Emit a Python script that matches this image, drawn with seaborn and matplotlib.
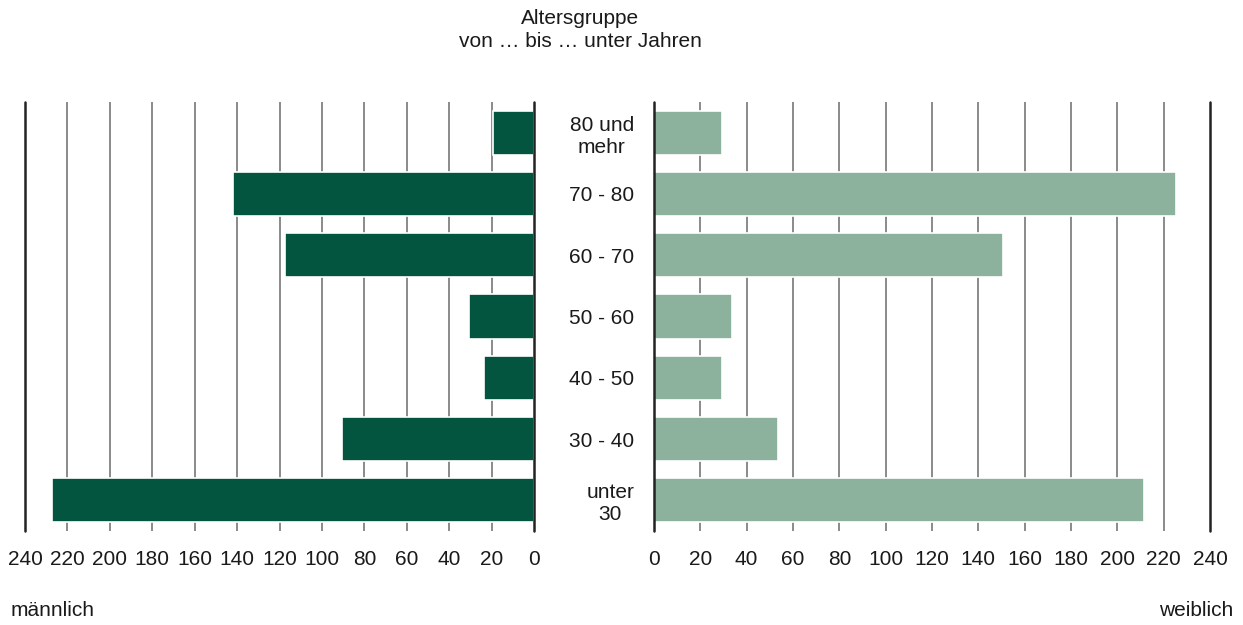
import numpy as np
import pandas as pd
import matplotlib
matplotlib.use('Agg')
import matplotlib.pyplot as plt
import seaborn as sns

# Daten (Anzahl Personen je Altersgruppe)
altersgruppen = ['80 und\nmehr', '70 - 80', '60 - 70', '50 - 60', '40 - 50', '30 - 40', 'unter\n30']
maennlich = [19.5, 142, 117.5, 30.5, 23.5, 90.5, 227.5]
weiblich = [29.5, 225.5, 150.5, 33.5, 29.5, 53.5, 211.5]
x_ticks = list(range(0, 241, 20))

FARBE_M = '#03553f'
FARBE_W = '#8cb19c'
GRID = '#8a8a8a'
ACHSE = '#222222'

sns.set_theme(style='white')
plt.rcParams['font.family'] = ['Liberation Sans', 'DejaVu Sans']
plt.rcParams['font.size'] = 15

df = pd.DataFrame({'gruppe': altersgruppen, 'm': maennlich, 'w': weiblich})

fig = plt.figure(figsize=(12.43, 6.25), dpi=100)
ax_l = fig.add_axes([25 / 1243, 1 - 531 / 625, 509 / 1243, 429 / 625])
ax_r = fig.add_axes([654 / 1243, 1 - 531 / 625, 556 / 1243, 429 / 625])

for ax, col, farbe in [(ax_l, 'm', FARBE_M), (ax_r, 'w', FARBE_W)]:
    # Gitterlinien hinter den Balken
    for t in x_ticks[1:-1]:
        ax.axvline(t, color=GRID, lw=1.4, zorder=0)
    for t in (x_ticks[0], x_ticks[-1]):
        ax.axvline(t, color=ACHSE, lw=1.8, zorder=3, clip_on=False)
    sns.barplot(data=df, x=col, y='gruppe', orient='h', color=farbe, width=0.72,
                edgecolor='white', linewidth=1.2, saturation=1, ax=ax, zorder=2)
    ax.set_xlim(0, 240)
    ax.set_ylim(6.5, -0.5)
    ax.set_xticks(x_ticks)
    ax.set_xlabel('')
    ax.set_ylabel('')
    ax.tick_params(axis='x', length=0, pad=14, labelsize=15, colors='#1a1a1a')
    for s in ax.spines.values():
        s.set_visible(False)
    ax.set_facecolor('none')

ax_l.invert_xaxis()
ax_l.set_yticks([])

ax_r.tick_params(axis='y', length=0, pad=14.4, labelsize=15, colors='#1a1a1a')
for lab in ax_r.get_yticklabels():
    lab.set_multialignment('center')
    lab.set_horizontalalignment('right')

fig.text(580 / 1243, 1 - 9 / 625, 'Altersgruppe\nvon … bis … unter Jahren', ha='center', va='top',
         fontsize=15, linespacing=1.25, color='#1a1a1a')
fig.text(11 / 1243, 1 - 610 / 625, 'männlich', ha='left', va='center', fontsize=15, color='#1a1a1a')
fig.text(1233 / 1243, 1 - 610 / 625, 'weiblich', ha='right', va='center', fontsize=15, color='#1a1a1a')

fig.savefig('out.png', dpi=100, facecolor='white')
